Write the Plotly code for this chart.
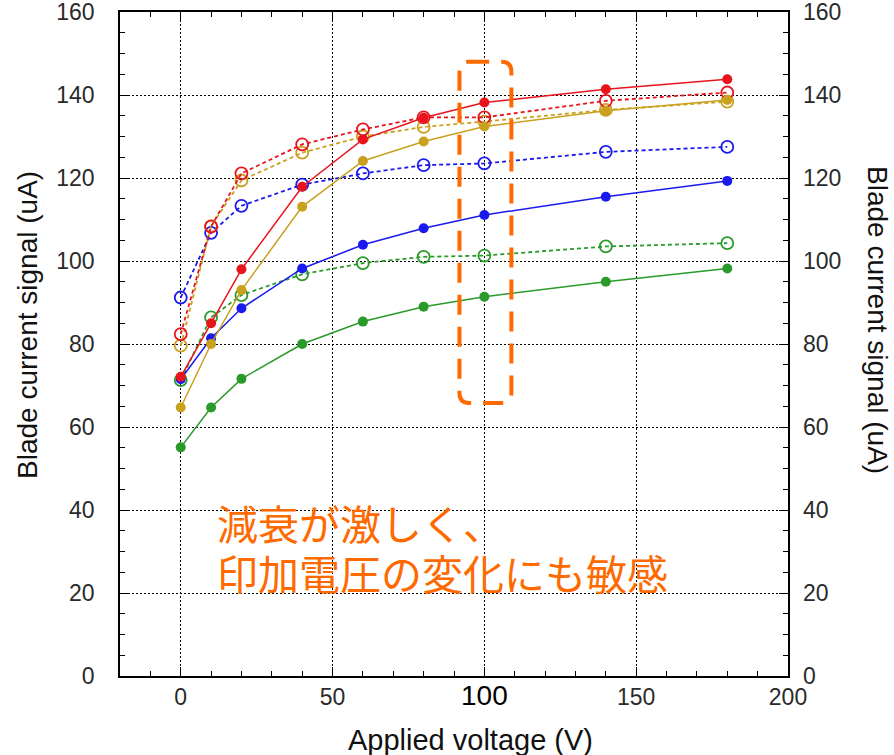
import plotly.graph_objects as go

# Applied voltage steps (V)
voltage = [0, 10, 20, 40, 60, 80, 100, 140, 180]

# Blade current signal (uA) per condition
red_solid = [72.1, 85.0, 98.0, 117.9, 129.3, 134.5, 138.2, 141.4, 143.8]
red_dash = [82.4, 108.3, 121.1, 128.1, 131.7, 134.6, 134.6, 138.6, 140.6]
gold_solid = [64.7, 80.0, 93.0, 113.1, 124.1, 128.8, 132.4, 136.2, 138.8]
gold_dash = [79.6, 108.4, 119.4, 126.1, 130.0, 132.3, 133.6, 136.4, 138.4]
blue_dash = [91.2, 106.8, 113.3, 118.4, 121.1, 123.1, 123.5, 126.3, 127.5]
blue_solid = [71.5, 81.4, 88.6, 98.2, 103.9, 107.9, 111.1, 115.5, 119.3]
green_dash = [71.3, 86.4, 91.8, 96.8, 99.5, 101.0, 101.3, 103.5, 104.3]
green_solid = [55.1, 64.7, 71.6, 80.0, 85.4, 89.0, 91.4, 95.0, 98.2]

x_ticks = [0, 50, 100, 150, 200]
x_tick_text = ["0", "50",
               "<span style='font-size:28px;color:#000000'>100</span>",
               "150", "200"]
y_ticks = [0, 20, 40, 60, 80, 100, 120, 140, 160]

note_lines = ["減衰が激しく、", "印加電圧の変化にも敏感"]

RED = "#e8141c"
GOLD = "#c9a11e"
BLUE = "#1a1aee"
GREEN = "#2a9a2a"
ORANGE = "#ff6a00"

series = [
    (green_dash, GREEN, False),
    (blue_dash, BLUE, False),
    (gold_dash, GOLD, False),
    (red_dash, RED, False),
    (green_solid, GREEN, True),
    (blue_solid, BLUE, True),
    (gold_solid, GOLD, True),
    (red_solid, RED, True),
]

fig = go.Figure()
for values, color, solid in series:
    if solid:
        fig.add_trace(go.Scatter(
            x=voltage, y=values, mode="lines+markers",
            line=dict(color=color, width=1.5),
            marker=dict(symbol="circle", size=10, color=color),
            showlegend=False, hoverinfo="x+y"))
    else:
        fig.add_trace(go.Scatter(
            x=voltage, y=values, mode="lines+markers",
            line=dict(color=color, width=1.8, dash="4px,3px"),
            marker=dict(symbol="circle-open", size=12, color=color,
                        line=dict(width=1.8, color=color)),
            showlegend=False, hoverinfo="x+y"))

# invisible trace so the right-hand axis is drawn
fig.add_trace(go.Scatter(x=[voltage[0]], y=[0], yaxis="y2", mode="markers",
                         marker=dict(opacity=0), showlegend=False,
                         hoverinfo="skip"))

FONT = "Liberation Sans, Arial, sans-serif"
tick_font = dict(family=FONT, size=23, color="#2a2a2a")
title_font = dict(family=FONT, size=28, color="#111111")
grid = dict(showgrid=True, gridcolor="black", gridwidth=1.2,
            griddash="2px,2px")

fig.update_layout(
    width=894, height=755,
    margin=dict(l=120, r=106, t=12, b=79),
    paper_bgcolor="white", plot_bgcolor="white",
    xaxis=dict(
        range=[-20, 200], tickvals=x_ticks, ticktext=x_tick_text,
        tickfont=tick_font, ticks="inside", ticklen=9, tickwidth=1.3,
        tickcolor="black", showline=True, linecolor="black", linewidth=1.5,
        mirror="ticks", zeroline=False, automargin=False,
        ticklabelstandoff=0, ticklabeloverflow="allow",
        minor=dict(dtick=10, ticks="inside", ticklen=5, tickcolor="black",
                   showgrid=False),
        **grid,
    ),
    yaxis=dict(
        range=[0, 160], tickvals=y_ticks, tickfont=tick_font,
        ticks="inside", ticklen=9, tickwidth=1.3, tickcolor="black",
        showline=True, linecolor="black", linewidth=1.5, mirror="ticks",
        zeroline=False, automargin=False, ticklabelstandoff=19,
        ticklabeloverflow="allow",
        minor=dict(dtick=5, ticks="inside", ticklen=5, tickcolor="black",
                   showgrid=False),
        **grid,
    ),
    yaxis2=dict(
        range=[0, 160], tickvals=y_ticks, tickfont=tick_font,
        overlaying="y", side="right", showgrid=False, zeroline=False,
        ticks="", showline=False, automargin=False, ticklabelstandoff=14,
        ticklabeloverflow="allow",
    ),
)

# axis titles
fig.add_annotation(
    text="Applied voltage (V)", xref="paper", yref="paper",
    x=(471 - 120) / 668, y=(676 - 740) / 664, xanchor="center",
    yanchor="middle", showarrow=False,
    font=dict(family=FONT, size=29, color="#111111"))
fig.add_annotation(
    text="Blade current signal (uA)", textangle=-90,
    xref="paper", yref="paper", x=(27 - 120) / 668, y=(676 - 325) / 664,
    xanchor="center", yanchor="middle", showarrow=False, font=title_font)
fig.add_annotation(
    text="Blade current signal (uA)", textangle=90,
    xref="paper", yref="paper", x=(878 - 120) / 668, y=(676 - 320) / 664,
    xanchor="center", yanchor="middle", showarrow=False, font=title_font)

# highlighted region around 100 V
x0, x1, y0, y1 = 91.8, 108.9, 65.8, 148.0
rx, ry = 3.2, 2.4
path = (f"M {x0+rx},{y1} L {x1-rx},{y1} Q {x1},{y1} {x1},{y1-ry} "
        f"L {x1},{y0+ry} Q {x1},{y0} {x1-rx},{y0} "
        f"L {x0+rx},{y0} Q {x0},{y0} {x0},{y0+ry} "
        f"L {x0},{y1-ry} Q {x0},{y1} {x0+rx},{y1} Z")
fig.add_shape(type="path", path=path, xref="x", yref="y",
              line=dict(color=ORANGE, width=4, dash="20px,12px"))

# two-line note, one annotation per line
for line, y_px in zip(note_lines, [522, 572]):
    fig.add_annotation(
        text=line, xref="paper", yref="paper",
        x=(215 - 120) / 668, y=(676 - y_px) / 664,
        xanchor="left", yanchor="middle", align="left", showarrow=False,
        font=dict(family="Noto Sans CJK JP", size=41, color=ORANGE))

fig.write_html("out.html")
